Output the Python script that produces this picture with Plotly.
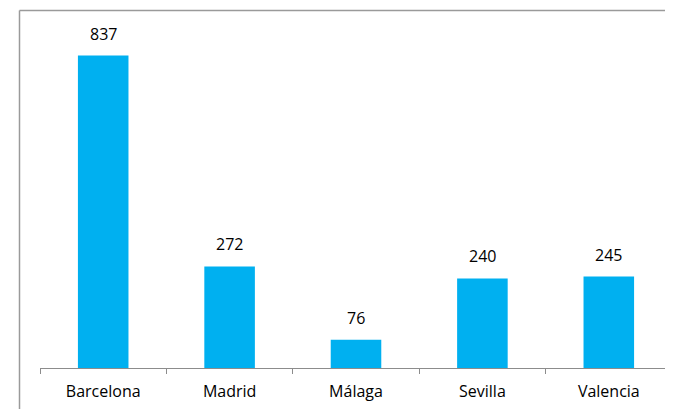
import plotly.graph_objects as go

cities = ["Barcelona", "Madrid", "Málaga", "Sevilla", "Valencia"]
values = [837, 272, 76, 240, 245]

fig = go.Figure()
fig.add_trace(go.Bar(x=cities, y=values, marker=dict(color="#00B0F0", line=dict(width=0)),
                     hoverinfo="skip"))

for c, v in zip(cities, values):
    fig.add_annotation(x=c, y=v, text=str(v), showarrow=False, yanchor="bottom",
                       yshift=9, font=dict(family="Open Sans", size=16, color="#000"))

# plot area: x 32..664 (632px), y 24..360 (336px) in figure pixels
bx = (11.5 - 32) / 632
by = 1 + (24 - 2.5) / 336
border = dict(color="#9a9a9a", width=1.5)
fig.add_shape(type="line", xref="paper", yref="paper", x0=bx, x1=1.05, y0=by, y1=by, line=border)
fig.add_shape(type="line", xref="paper", yref="paper", x0=bx, x1=bx, y0=-0.2, y1=by, line=border)

fig.update_layout(
    width=665, height=401,
    margin=dict(l=32, r=1, t=24, b=41),
    paper_bgcolor="white", plot_bgcolor="white",
    bargap=0.6, showlegend=False,
    font=dict(family="Open Sans", size=16, color="#000"),
    xaxis=dict(showline=True, linecolor="#8c8c8c", linewidth=1, ticks="outside",
               tickson="boundaries", ticklen=5, tickcolor="#8c8c8c", showgrid=False,
               ticklabelstandoff=9, fixedrange=True),
    yaxis=dict(range=[0, 900], visible=False, fixedrange=True),
)

fig.write_html("out.html")
